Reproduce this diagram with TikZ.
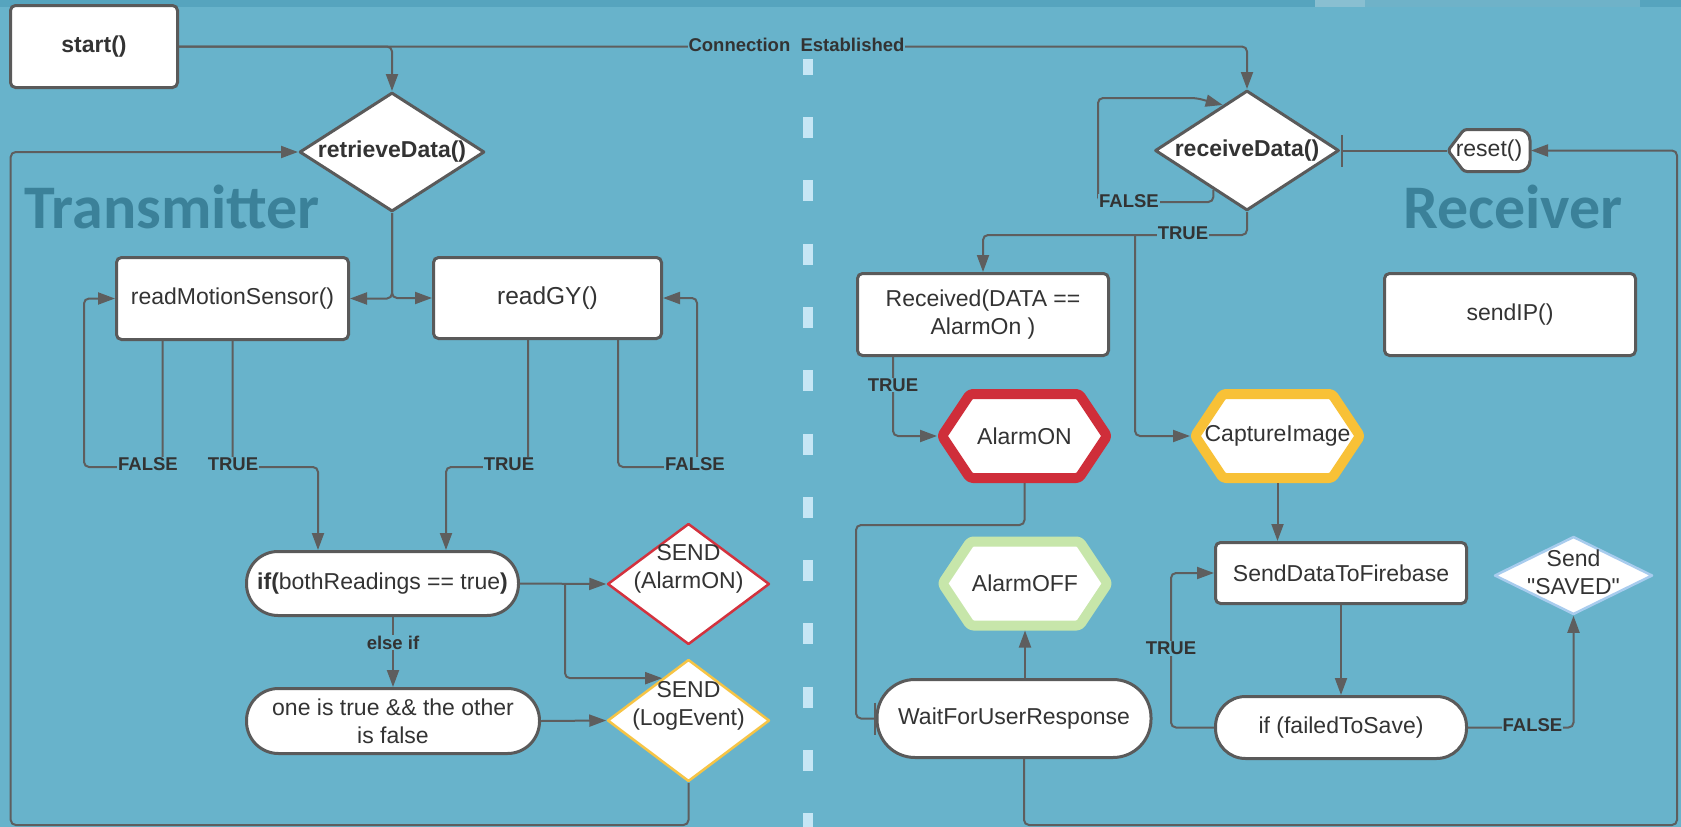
\documentclass[tikz,border=0pt]{standalone}
\usepackage{fontspec}
\setmainfont{Liberation Sans}[Ligatures=TeXOff]
\newfontfamily\titlefont{Carlito}
\usetikzlibrary{arrows.meta,calc,shapes.geometric}

\definecolor{bg}{HTML}{68B3CB}
\definecolor{topband}{HTML}{56A4BE}
\definecolor{ln}{HTML}{5E5E5E}
\definecolor{bd}{HTML}{5A5A5A}
\definecolor{txt}{HTML}{333333}
\definecolor{ttl}{HTML}{3B8199}
\definecolor{divc}{HTML}{C6E6F5}
\definecolor{hred}{HTML}{CF2E3A}
\definecolor{hyel}{HTML}{F8C137}
\definecolor{hgrn}{HTML}{C7E6AA}
\definecolor{dred}{HTML}{D3323E}
\definecolor{dyel}{HTML}{F6C445}
\definecolor{dblu}{HTML}{A8CCEE}

\newcommand\myhex[5]{%
  \draw[line width=10pt,draw=#4,fill=white,line join=round,rounded corners=3pt]
    ({#2-82.5},{#3}) -- ({#2-54.5},{#3-42}) -- ({#2+54.5},{#3-42}) -- ({#2+82.5},{#3})
    -- ({#2+54.5},{#3+42}) -- ({#2-54.5},{#3+42}) -- cycle;
  \node[minimum width=175,minimum height=94,inner sep=0pt,outer sep=0pt] (#1) at (#2,#3) {};
  \node[txtn] (#1t) at (#2,#3) {#5};%
}

\begin{document}
\begin{tikzpicture}[x=1pt,y=-1pt,
  conn/.style={draw=ln,line width=2pt,rounded corners=5pt},
  arr/.style={-{Triangle[length=17pt,width=12pt]}},
  teeend/.style={-{Bar[width=32pt,line width=2pt]}},
  box/.style={draw=bd,line width=3pt,fill=white,rounded corners=5pt,inner sep=0pt,
    align=center,text=txt,font=\fontsize{23}{28}\selectfont},
  dia/.style={diamond,fill=white,inner sep=0pt,line join=round},
  txtn/.style={text=txt,align=center,inner sep=0pt,font=\fontsize{23}{28}\selectfont},
  lbl/.style={fill=bg,text=txt,inner sep=1pt,font=\bfseries\fontsize{18.5}{20}\selectfont},
  bigtitle/.style={text=ttl,font=\titlefont\bfseries\fontsize{62}{70}\selectfont,inner sep=0pt,anchor=base west},
]
\useasboundingbox (0,0) rectangle (1681,827);
\fill[bg] (0,0) rectangle (1681,827);
\fill[topband] (0,0) rectangle (1681,7);
\fill[color=topband!85!white] (1315,0) rectangle (1640,7);
\fill[color=topband!70!white] (1315,0) rectangle (1365,7);

% divider
\draw[divc,line width=10.7pt,dash pattern=on 21pt off 42.3pt,dash phase=5.3pt] (808,59) -- (808,827);

% titles
\node[bigtitle] (ttx) at (24,228) {Transmitter};
\node[bigtitle] (trx) at (1403,228) {Receiver};

% ---- Transmitter nodes
\node[box,minimum width=167,minimum height=82,font=\bfseries\fontsize{23}{28}\selectfont] (start) at (94,46.5) {start()};
\node[dia,draw=bd,line width=3pt,minimum width=185,minimum height=119] (retr) at (392,152) {};
\node[txtn,font=\bfseries\fontsize{23}{28}\selectfont] (retrt) at (392,152) {retrieveData()};
\node[box,minimum width=232,minimum height=82] (rms) at (232.5,298.5) {readMotionSensor()};
\node[box,minimum width=228,minimum height=81,font=\fontsize{24.5}{28}\selectfont] (gy) at (547.5,298) {readGY()};
\node[box,rounded corners=31.5pt,minimum width=272,minimum height=64] (ifb) at (382.5,583.5)
  {{\bfseries if(}bothReadings == true{\bfseries )}};
\node[box,rounded corners=32pt,minimum width=293,minimum height=65] (one) at (393,721)
  {one is true \&\& the other\\is false};
\node[dia,draw=dred,line width=2.5pt,minimum width=162,minimum height=121] (send1) at (688.5,584) {};
\node[txtn] (send1t) at (688.5,569) {SEND\\(AlarmON)};
\node[dia,draw=dyel,line width=2.5pt,minimum width=162,minimum height=122] (send2) at (688.5,720.5) {};
\node[txtn] (send2t) at (688.5,706) {SEND\\(LogEvent)};

% ---- Receiver nodes
\node[dia,draw=bd,line width=3pt,minimum width=184,minimum height=120] (recv) at (1247,150.5) {};
\node[txtn,font=\bfseries\fontsize{23}{28}\selectfont] (recvt) at (1247,150.5) {receiveData()};
\draw[draw=bd,fill=white,line width=3pt,line join=round] (1448,150.5) [rounded corners=3pt] -- (1464,129.5)
  [rounded corners=11pt] -- (1530,129.5) -- (1530,171.5) [rounded corners=3pt] -- (1464,171.5) -- cycle;
\node[minimum width=84,minimum height=45,inner sep=0pt,outer sep=0pt] (reset) at (1489,150.5) {};
\node[txtn] (resett) at (1489,150.5) {reset()};
\node[box,minimum width=251,minimum height=82] (rec) at (983,314.5) {Received(DATA ==\\AlarmOn )};
\node[box,minimum width=251,minimum height=82] (sendip) at (1510,314.5) {sendIP()};
\myhex{aon}{1024.5}{436}{hred}{AlarmON}
\myhex{aoff}{1025}{583.5}{hgrn}{AlarmOFF}
\myhex{cap}{1277.5}{436}{hyel}{CaptureImage}
\node[box,rounded corners=38pt,minimum width=274,minimum height=78] (wait) at (1014,718.5) {WaitForUserResponse};
\node[box,minimum width=251,minimum height=61] (sdf) at (1341,573) {SendDataToFirebase};
\node[box,rounded corners=30pt,minimum width=251,minimum height=62] (fts) at (1341,727.5) {if (failedToSave)};
\node[dia,draw=dblu,line width=2.5pt,minimum width=158,minimum height=78] (saved) at (1573.5,575.5) {};
\node[txtn] (savedt) at (1573.5,572.5) {Send\\"SAVED"};

% ---- Transmitter connectors
\draw[conn,arr] (start.east) -| (retr.north);
\draw[conn,arr] (start.east) -| (recv.north);
\draw[conn,arr] (retr.south) |- (rms.east);
\draw[conn,arr] (retr.south) |- (gy.west);
\coordinate (fa) at (84,467);
\draw[conn,arr] ($(rms.south)+(-70,0)$) |- (fa) |- (rms.west);
\coordinate (ta) at (318,467);
\draw[conn,arr] (rms.south) |- (ta) -- (ta |- ifb.north);
\coordinate (tb) at (446,467);
\draw[conn,arr] ($(gy.south)+(-19.5,0)$) |- (tb) -- (tb |- ifb.north);
\coordinate (fb) at (697,467);
\draw[conn,arr] ($(gy.south)+(70.5,0)$) |- (fb) |- (gy.east);
\draw[conn,arr] (ifb.east) -- (send1.west);
\draw[conn,arr] ($(ifb.east)+(45,0)$) |- ($(send2.west)!0.68!(send2.north)$);
\draw[conn,arr] ($(ifb.south)+(10.5,0)$) -- (one.north);
\draw[conn,arr] (one.east) -- (send2.west);
\coordinate (lb) at (10.7,825);
\draw[conn,arr] (send2.south) |- (lb) |- (retr.west);

% ---- Receiver connectors
\draw[conn,teeend] (reset.west) -- (recv.east);
\coordinate (rb) at (1677,825);
\draw[conn,arr] ($(wait.south)+(10,0)$) |- (rb) |- (reset.east);
\coordinate (fl1) at (1098,202);
\coordinate (fl2) at (1196,98);
\draw[conn,arr] ($(recv.west)!0.64!(recv.south)$) |- (fl1) |- (fl2) -- ($(recv.west)!0.74!(recv.north)$);
\coordinate (tr) at (983,235);
\draw[conn,arr] (recv.south) |- (tr) -- (rec.north);
\coordinate (tc) at (1135,235);
\draw[conn,arr] (tc) |- (cap.west);
\draw[conn,arr] ($(rec.south)+(-90,0)$) |- (aon.west);
\coordinate (al) at (856,525);
\draw[conn,teeend] (aon.south) |- (al) |- (wait.west);
\draw[conn,arr] (aoff.south |- wait.north) -- (aoff.south);
\draw[conn,arr] (cap.south) -- (cap.south |- sdf.north);
\draw[conn,arr] (sdf.south) -- (fts.north);
\coordinate (tl) at (1171,727.5);
\draw[conn,arr] (fts.west) -- (tl) |- (sdf.west);
\draw[conn,arr] (fts.east) -| (saved.south);

% ---- labels
\node[lbl] (ce) at (796.5,45) {Connection~~Established};
\node[lbl] (l1) at (148,464.5) {FALSE};
\node[lbl] (l2) at (233,464.5) {TRUE};
\node[lbl] (l3) at (509,464.5) {TRUE};
\node[lbl] (l4) at (695,464.5) {FALSE};
\node[lbl] (l5) at (393,642.5) {else if};
\node[lbl] (l6) at (1129,201.5) {FALSE};
\node[lbl] (l7) at (1183,233.5) {TRUE};
\node[lbl] (l8) at (893,385) {TRUE};
\node[lbl] (l9) at (1171,648.5) {TRUE};
\node[lbl] (l10) at (1532.5,725) {FALSE};
\end{tikzpicture}
\end{document}
